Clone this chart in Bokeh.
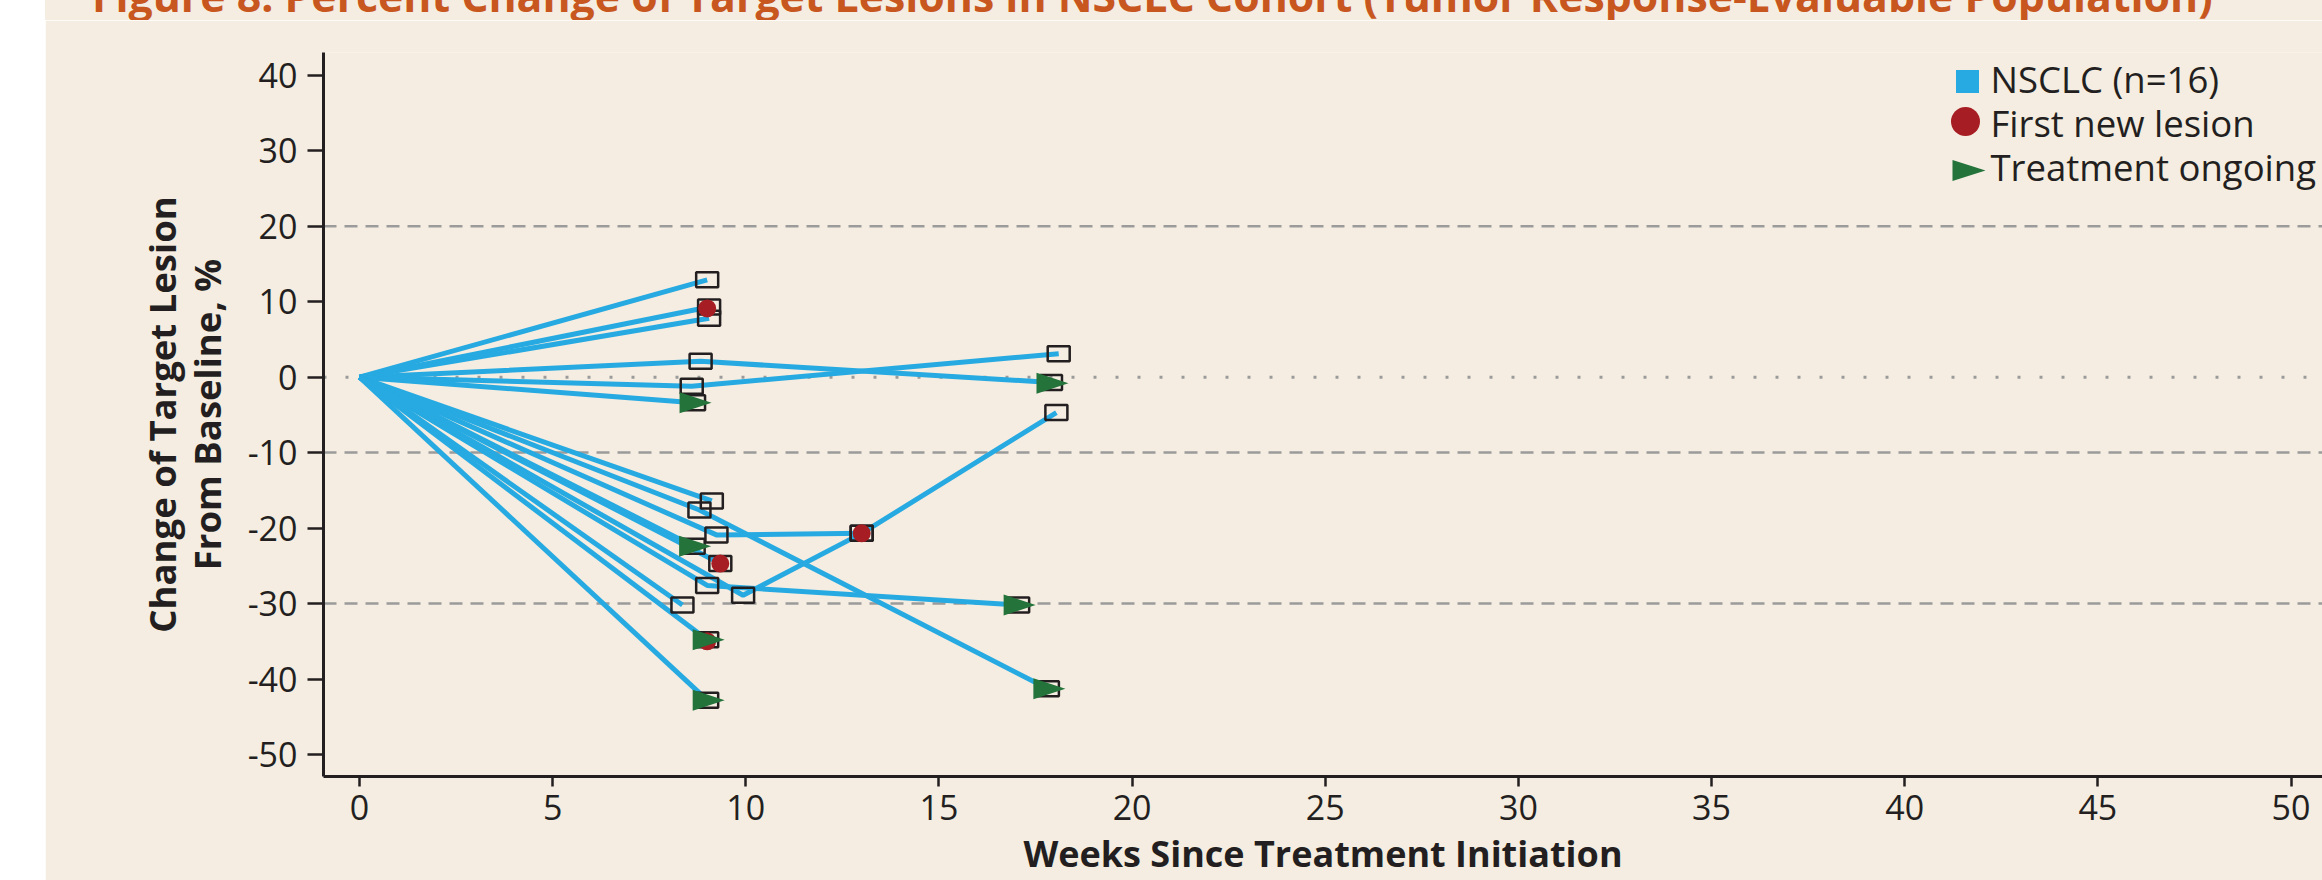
from bokeh.plotting import figure
from bokeh.models import Span, Label, FixedTicker, Spacer, Div
from bokeh.layouts import row, column
from bokeh.embed import file_html
from bokeh.resources import INLINE

# ---------------- data ----------------
TITLE = "Figure 8: Percent Change of Target Lesions in NSCLC Cohort (Tumor Response-Evaluable Population)"
X_TITLE = "Weeks Since Treatment Initiation"
Y_TITLE = "Change of Target Lesion\nFrom Baseline, %"
LEGEND_LABELS = ["NSCLC (n=16)", "First new lesion", "Treatment ongoing"]

x_ticks = list(range(0, 51, 5))
y_ticks = list(range(-50, 41, 10))
ref_dashed = [20, -10, -30]
ref_dotted = [0]

patient_weeks = [
    [0, 9.0],
    [0, 9.05],
    [0, 9.05],
    [0, 8.83, 17.9],
    [0, 8.6, 18.1],
    [0, 8.66],
    [0, 9.12],
    [0, 8.8, 17.82],
    [0, 9.24, 13.0],
    [0, 8.65],
    [0, 9.34],
    [0, 9.0, 17.05],
    [0, 9.93, 13.0, 18.04],
    [0, 8.36],
    [0, 9.0],
    [0, 9.0],
]
patient_pct = [
    [0, 12.9],
    [0, 9.3],
    [0, 7.8],
    [0, 2.1, -0.7],
    [0, -1.2, 3.1],
    [0, -3.4],
    [0, -16.4],
    [0, -17.6, -41.3],
    [0, -20.9, -20.7],
    [0, -22.4],
    [0, -24.7],
    [0, -27.6, -30.2],
    [0, -28.9, -20.7, -4.7],
    [0, -30.2],
    [0, -34.8],
    [0, -42.8],
]

new_lesion_weeks = [9.0, 13.0, 9.34, 9.0]
new_lesion_pct = [9.1, -20.7, -24.7, -35.0]

ongoing_weeks = [17.9, 8.66, 8.65, 9.0, 9.0, 17.05, 17.82]
ongoing_pct = [-0.8, -3.4, -22.4, -34.8, -42.8, -30.2, -41.3]

# ---------------- style / layout ----------------
BG = "#f5ede1"
BLUE = "#27aae1"
RED = "#a61e23"
GREEN = "#23733a"
INK = "#231f20"
ORANGE = "#c8571f"
GRID = "#9b9b9b"
FONT = "Open Sans"

PAGE_W, PAGE_H = 2322, 880
LEFT_GAP = 45
TITLE_H = 20
FIG_W, FIG_H = PAGE_W - LEFT_GAP, PAGE_H - TITLE_H
MB_L, MB_R, MB_T, MB_B = 278, 0, 32, 104
FRAME_W = FIG_W - MB_L - MB_R
FRAME_H = FIG_H - MB_T - MB_B
PX_WEEK = 38.63
PX_PCT = 7.547
X0 = -0.932
X1 = X0 + FRAME_W / PX_WEEK
Y0 = -52.915
Y1 = Y0 + FRAME_H / PX_PCT
KX = FRAME_W / (X1 - X0)
KY = FRAME_H / (Y1 - Y0)
FRAME_LEFT_PAGE = LEFT_GAP + MB_L
FRAME_BOTTOM_PAGE = TITLE_H + MB_T + FRAME_H


def page_to_data(px, py):
    return X0 + (px - FRAME_LEFT_PAGE) / KX, Y0 + (FRAME_BOTTOM_PAGE - py) / KY


def sx(px):
    return px - FRAME_LEFT_PAGE


def sy(py):
    return FRAME_BOTTOM_PAGE - py


def tri(xs, ys, back=14.5, tip=17.5, half=10.5):
    pxs, pys = [], []
    for x, y in zip(xs, ys):
        pxs.append([x - back / KX, x - back / KX, x + tip / KX])
        pys.append([y + half / KY, y - half / KY, y])
    return pxs, pys


p = figure(width=FIG_W, height=FIG_H, x_range=(X0, X1), y_range=(Y0, Y1),
           output_backend="svg", toolbar_location=None,
           min_border_left=MB_L, min_border_right=MB_R,
           min_border_top=MB_T, min_border_bottom=MB_B, margin=0)
p.background_fill_color = BG
p.border_fill_color = BG
p.outline_line_color = None
p.grid.visible = False

for ax in (p.xaxis[0], p.yaxis[0]):
    ax.axis_line_color = INK
    ax.axis_line_width = 3
    ax.major_tick_line_color = INK
    ax.major_tick_line_width = 2.5
    ax.major_tick_in = 0
    ax.minor_tick_line_color = None
    ax.major_label_text_font = FONT
    ax.major_label_text_font_size = "34px"
    ax.major_label_text_color = INK
    ax.axis_label_text_font = FONT
    ax.axis_label_text_font_style = "bold"
    ax.axis_label_text_color = INK
p.xaxis.ticker = FixedTicker(ticks=x_ticks)
p.yaxis.ticker = FixedTicker(ticks=y_ticks)
p.yaxis.major_label_overrides = {t: str(t) for t in y_ticks}
p.xaxis.major_tick_out = 10
p.yaxis.major_tick_out = 16
p.xaxis.major_label_standoff = 8
p.yaxis.major_label_standoff = 10

p.xaxis.axis_label = X_TITLE
p.xaxis.axis_label_text_font_size = "36px"
p.xaxis.axis_label_standoff = 6

p.yaxis.axis_label = Y_TITLE
p.yaxis.axis_label_text_font_size = "36.5px"
p.yaxis.axis_label_text_line_height = 0.9
p.yaxis.axis_label_standoff = 13

for loc in ref_dashed:
    p.add_layout(Span(location=loc, dimension="width", line_color=GRID,
                      line_width=2.5, line_dash="13 8", level="underlay"))
for loc in ref_dotted:
    p.add_layout(Span(location=loc, dimension="width", line_color=GRID,
                      line_width=3, line_dash="3 19", level="underlay"))

p.multi_line(xs=patient_weeks, ys=patient_pct, line_color=BLUE, line_width=5)

sq_x = [w for ws in patient_weeks for w in ws[1:]]
sq_y = [v for vs in patient_pct for v in vs[1:]]
p.rect(x=sq_x, y=sq_y, width=22, height=15, width_units="screen",
       height_units="screen", fill_color=None, line_color=INK, line_width=2.5)

p.scatter(x=new_lesion_weeks, y=new_lesion_pct, marker="circle", size=18,
          fill_color=RED, line_color=None)

txs, tys = tri(ongoing_weeks, ongoing_pct)
p.patches(xs=txs, ys=tys, fill_color=GREEN, line_color=None)

# legend (hand-built, positioned in page pixels)
lx, ly = page_to_data(1967, 81)
p.scatter(x=[lx], y=[ly], marker="square", size=23, fill_color=BLUE, line_color=None)
lx, ly = page_to_data(1965, 121)
p.scatter(x=[lx], y=[ly], marker="circle", size=29, fill_color=RED, line_color=None)
lx, ly = page_to_data(1952, 170)
lt_x, lt_y = tri([lx], [ly], back=0, tip=33, half=10.5)
p.patches(xs=lt_x, ys=lt_y, fill_color=GREEN, line_color=None)
for txt, mid in zip(LEGEND_LABELS, [78, 122, 166]):
    p.add_layout(Label(x=sx(1990), y=sy(mid), x_units="screen", y_units="screen",
                       text=txt, text_font=FONT, text_font_size="36.5px",
                       text_color=INK, text_baseline="middle", text_align="left"))

# title strip (only its lower part is visible, as in the reference)
title_html = (
    f'<div style="font-family:\'Open Sans\';font-weight:bold;font-size:42.8px;'
    f'line-height:50px;color:{ORANGE};white-space:nowrap;'
    f'margin-top:-32px;margin-left:{92 - LEFT_GAP}px;">{TITLE}</div>'
)
title_div = Div(text=title_html, width=FIG_W, height=TITLE_H, margin=0,
                styles={"background-color": BG, "overflow": "hidden"})

layout = column(
    row(Spacer(width=LEFT_GAP, height=TITLE_H, margin=0), title_div, spacing=0),
    row(Spacer(width=LEFT_GAP, height=FIG_H, margin=0), p, spacing=0),
    spacing=0,
)

with open("out.html", "w") as f:
    f.write(file_html(layout, INLINE))
